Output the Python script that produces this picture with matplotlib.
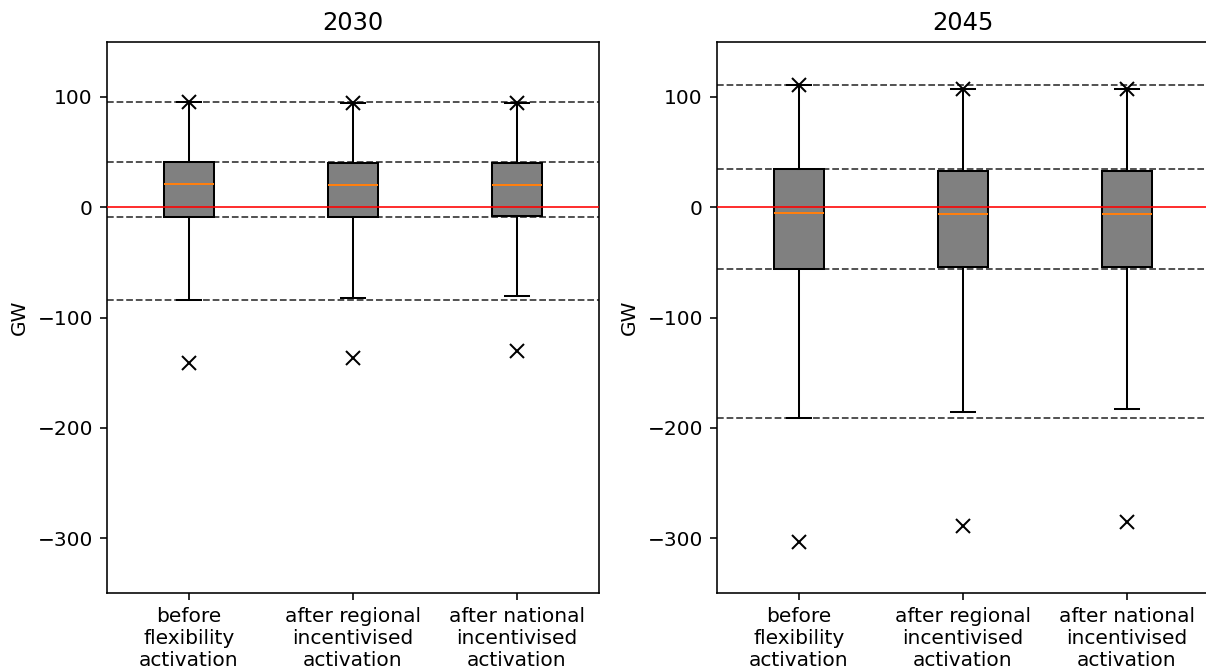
import matplotlib
matplotlib.use("Agg")
import matplotlib.pyplot as plt

categories = ["before\nflexibility\nactivation",
              "after regional\nincentivised\nactivation",
              "after national\nincentivised\nactivation"]
years = ["2030", "2045"]

# 2030 statistics (GW)
max_2030 = [95.1, 94.5, 94.5]
q3_2030 = [40.8, 40.5, 39.6]
med_2030 = [20.6, 20.2, 19.9]
q1_2030 = [-9.1, -8.8, -8.4]
whislo_2030 = [-84.2, -82.7, -80.3]
min_2030 = [-141.0, -137.0, -130.0]

# 2045 statistics (GW)
max_2045 = [111.1, 106.9, 106.9]
q3_2045 = [34.4, 33.2, 32.6]
med_2045 = [-5.4, -6.3, -6.3]
q1_2045 = [-55.9, -54.6, -54.1]
whislo_2045 = [-190.8, -186.0, -183.3]
min_2045 = [-303.4, -288.6, -285.6]

yticks = [-300, -200, -100, 0, 100]

data = {
    "2030": (max_2030, q3_2030, med_2030, q1_2030, whislo_2030, min_2030),
    "2045": (max_2045, q3_2045, med_2045, q1_2045, whislo_2045, min_2045),
}

DPI = 145
fig = plt.figure(figsize=(1206 / DPI, 672 / DPI), dpi=DPI)
W, H = 1206.0, 672.0
ax_w = 492 / W
ax_b = 1 - 593.3 / H
ax_h = (593.3 - 41.7) / H
lefts = [107 / W, 717 / W]

for left, year in zip(lefts, years):
    ax = fig.add_axes([left, ax_b, ax_w, ax_h])
    mx, q3, med, q1, wlo, mn = data[year]
    stats = []
    for i in range(len(categories)):
        stats.append(dict(med=med[i], q1=q1[i], q3=q3[i],
                          whislo=wlo[i], whishi=mx[i],
                          fliers=[mx[i], mn[i]], label=categories[i]))
    # reference dashed lines from the "before" case
    for v in (mx[0], q3[0], q1[0], wlo[0]):
        ax.axhline(v, color="#444444", ls="--", lw=0.9, zorder=1)
    ax.bxp(stats, patch_artist=True,
           boxprops=dict(facecolor="grey", edgecolor="black", linewidth=1.0),
           medianprops=dict(color="C1", linewidth=1.0),
           whiskerprops=dict(color="black", linewidth=1.0),
           capprops=dict(color="black", linewidth=1.0),
           flierprops=dict(marker="x", markeredgecolor="black",
                           markersize=6.5, markeredgewidth=1.0),
           zorder=2)
    ax.axhline(0, color="red", lw=0.8, zorder=3)
    ax.set_xlim(0.5, 3.5)
    ax.set_ylim(-350, 150)
    ax.set_yticks(yticks)
    ax.set_ylabel("GW")
    ax.set_title(year)

fig.savefig("out.png", dpi=DPI)
